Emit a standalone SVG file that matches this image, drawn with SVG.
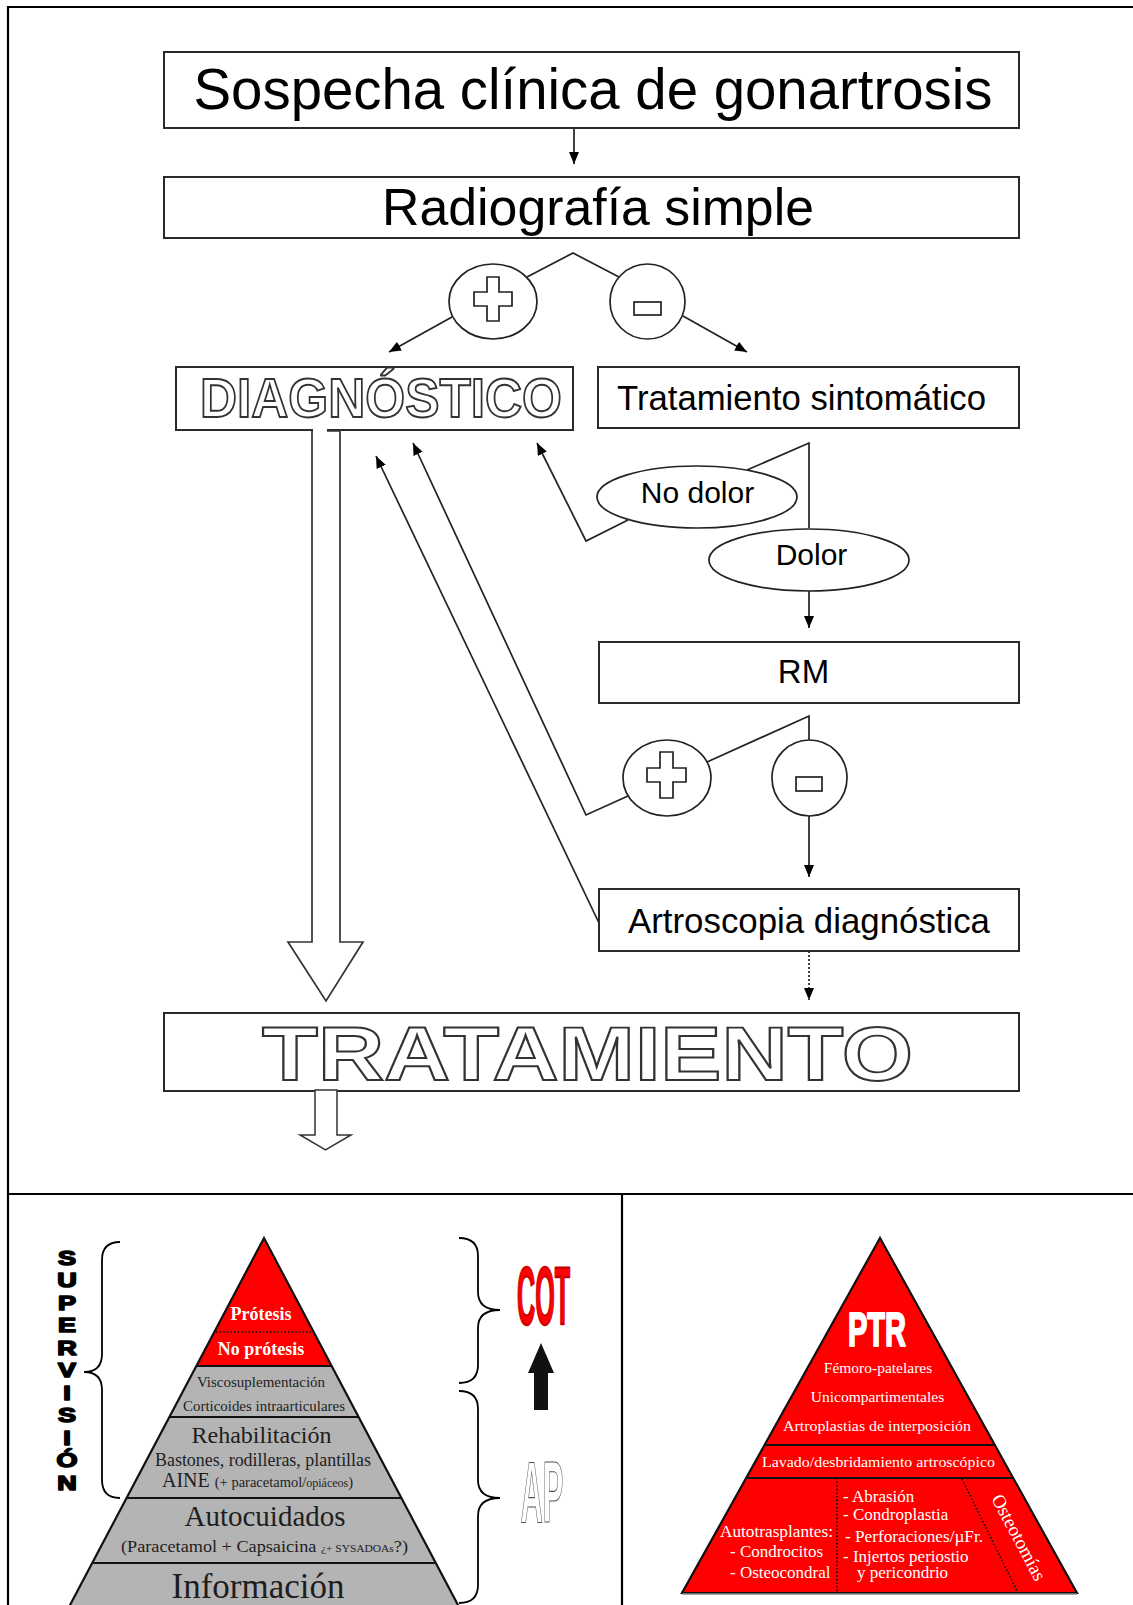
<svg xmlns="http://www.w3.org/2000/svg" width="1133" height="1605" viewBox="0 0 1133 1605">
  <style>
    .box { fill: #fff; stroke: #2a2a2a; stroke-width: 2; }
    .ln { fill: none; stroke: #222; stroke-width: 1.7; }
    .el { fill: #fff; stroke: #222; stroke-width: 1.7; }
    .sans { font-family: "Liberation Sans", Arial, sans-serif; fill: #000; }
    .hollow { font-family: "Liberation Sans", Arial, sans-serif; font-weight: bold; fill: #fff; stroke: #333; stroke-width: 1.9; }
    .serif { font-family: "Liberation Serif", "Times New Roman", serif; }
    .dark { fill: #1e1e1e; }
    .wt { fill: #fff; }
    .sep { fill: none; stroke: #111; stroke-width: 2.2; }
    .dot { fill: none; stroke: #111; stroke-width: 1.6; stroke-dasharray: 1.6 2; }
  </style>
  <defs>
    <marker id="ah" markerUnits="userSpaceOnUse" markerWidth="13" markerHeight="11" refX="12" refY="5" orient="auto">
      <path d="M0,0 L12,5 L0,10 Z" fill="#000"/>
    </marker>
  </defs>

  <rect width="1133" height="1605" fill="#fff"/>

  <!-- outer frame and panel dividers -->
  <g id="frame" fill="none" stroke="#000" stroke-width="2.2">
    <path d="M1140,7 H8 V1610"/>
    <path d="M8,1194 H1140"/>
    <path d="M622,1194 V1610"/>
  </g>

  <!-- connectors -->
  <g id="connectors">
    <line class="ln" x1="574" y1="128" x2="574" y2="164" marker-end="url(#ah)"/>
    <polyline class="ln" points="527,277 573,253 619,277"/>
    <line class="ln" x1="452" y1="317" x2="389" y2="352" marker-end="url(#ah)"/>
    <line class="ln" x1="683" y1="316" x2="747" y2="352" marker-end="url(#ah)"/>
    <polyline class="ln" points="747,470 809,443 809,528"/>
    <polyline class="ln" points="628,520 586,541 537,443" marker-end="url(#ah)"/>
    <line class="ln" x1="809" y1="591" x2="809" y2="628" marker-end="url(#ah)"/>
    <polyline class="ln" points="707,762 809,716 809,740"/>
    <polyline class="ln" points="628,796 586,815 413,443" marker-end="url(#ah)"/>
    <line class="ln" x1="809" y1="816" x2="809" y2="877" marker-end="url(#ah)"/>
    <line class="ln" x1="599" y1="923" x2="376" y2="456" marker-end="url(#ah)"/>
    <line class="ln" x1="809" y1="951" x2="809" y2="1000" stroke-dasharray="2 2" marker-end="url(#ah)"/>
  </g>

  <!-- flowchart nodes -->
  <g id="n-sospecha">
    <rect class="box" x="164" y="52" width="855" height="76"/>
    <text class="sans" x="593" y="109" font-size="57" text-anchor="middle" textLength="799" lengthAdjust="spacingAndGlyphs">Sospecha clínica de gonartrosis</text>
  </g>
  <g id="n-radiografia">
    <rect class="box" x="164" y="177" width="855" height="61"/>
    <text class="sans" x="598" y="225" font-size="52" text-anchor="middle" textLength="432" lengthAdjust="spacingAndGlyphs">Radiografía simple</text>
  </g>
  <g id="n-pos1">
    <ellipse class="el" cx="493" cy="301.5" rx="44" ry="37.5"/>
    <path class="el" d="M487,277 H499 V292 H512 V306 H499 V321 H487 V306 H474 V292 H487 Z"/>
  </g>
  <g id="n-neg1">
    <ellipse class="el" cx="647.5" cy="301.5" rx="37.5" ry="37.5"/>
    <rect class="el" x="634" y="302" width="27" height="13"/>
  </g>
  <g id="n-diagnostico">
    <rect class="box" x="176" y="367" width="397" height="63"/>
    <text class="hollow" x="200" y="417" font-size="56" textLength="362" lengthAdjust="spacingAndGlyphs">DIAGNÓSTICO</text>
  </g>
  <g id="n-sintomatico">
    <rect class="box" x="598" y="367" width="421" height="61"/>
    <text class="sans" x="617" y="410" font-size="34.5" textLength="369" lengthAdjust="spacingAndGlyphs">Tratamiento sintomático</text>
  </g>
  <g id="n-nodolor">
    <ellipse class="el" cx="697" cy="497" rx="100" ry="31"/>
    <text class="sans" x="697.5" y="503" font-size="30" text-anchor="middle">No dolor</text>
  </g>
  <g id="n-dolor">
    <ellipse class="el" cx="809" cy="560" rx="100" ry="31"/>
    <text class="sans" x="811.5" y="565" font-size="30" text-anchor="middle">Dolor</text>
  </g>
  <g id="n-rm">
    <rect class="box" x="599" y="642" width="420" height="61"/>
    <text class="sans" x="803.5" y="683" font-size="33" text-anchor="middle">RM</text>
  </g>
  <g id="n-pos2">
    <ellipse class="el" cx="667" cy="778" rx="44" ry="38"/>
    <path class="el" d="M660,752 H673 V768 H686 V782 H673 V798 H660 V782 H647 V768 H660 Z"/>
  </g>
  <g id="n-neg2">
    <ellipse class="el" cx="809.5" cy="778" rx="37.5" ry="38"/>
    <rect class="el" x="796" y="777" width="26" height="14"/>
  </g>
  <g id="n-artroscopia">
    <rect class="box" x="599" y="889" width="420" height="62"/>
    <text class="sans" x="628" y="933" font-size="34.5" textLength="362" lengthAdjust="spacingAndGlyphs">Artroscopia diagnóstica</text>
  </g>
  <g id="n-big-arrow">
    <polygon points="312,431 312,942 288,942 326,1001 363,942 340,942 340,431" fill="#fff" stroke="#333" stroke-width="1.7" stroke-linejoin="miter"/>
    <rect x="313" y="428" width="14" height="4" fill="#fff"/>
  </g>
  <g id="n-tratamiento">
    <rect class="box" x="164" y="1013" width="855" height="78"/>
    <text class="hollow" x="262" y="1080" font-size="76" textLength="651" lengthAdjust="spacingAndGlyphs">TRATAMIENTO</text>
  </g>
  <g id="n-out-arrow">
    <polygon points="315,1090 315,1135 300,1135 325.5,1150 351,1135 337,1135 337,1090" fill="#fff" stroke="#333" stroke-width="1.5"/>
  </g>

  <!-- left panel: treatment pyramid by care level -->
  <g id="pyramid-left">
    <polygon points="264,1238 196.3,1366 331.7,1366" fill="#f00"/>
    <polygon points="196.3,1366 331.7,1366 358.6,1417 169.4,1417" fill="#b4b4b4"/>
    <polygon points="169.4,1417 358.6,1417 401.5,1498 126.5,1498" fill="#b4b4b4"/>
    <polygon points="126.5,1498 401.5,1498 435.8,1563 92.2,1563" fill="#b4b4b4"/>
    <polygon points="92.2,1563 435.8,1563 458.5,1606 69.5,1606" fill="#b4b4b4"/>
    <path class="sep" d="M69.5,1606 L264,1238 L458.5,1606"/>
    <path class="sep" d="M196.3,1366 H331.7 M169.4,1417 H358.6 M126.5,1498 H401.5 M92.2,1563 H435.8"/>
    <path class="dot" d="M216,1332 H311"/>
    <text class="serif wt" x="261" y="1320" font-size="18" font-weight="bold" text-anchor="middle">Prótesis</text>
    <text class="serif wt" x="261" y="1355" font-size="18" font-weight="bold" text-anchor="middle">No prótesis</text>
    <text class="serif dark" x="261" y="1387" font-size="15" text-anchor="middle">Viscosuplementación</text>
    <text class="serif dark" x="264" y="1411" font-size="15" text-anchor="middle" textLength="162" lengthAdjust="spacingAndGlyphs">Corticoides intraarticulares</text>
    <text class="serif dark" x="261.5" y="1443" font-size="24" text-anchor="middle">Rehabilitación</text>
    <text class="serif dark" x="263" y="1466" font-size="18" text-anchor="middle" textLength="216" lengthAdjust="spacingAndGlyphs">Bastones, rodilleras, plantillas</text>
    <text class="serif dark" x="162" y="1487" font-size="20">AINE <tspan font-size="14.5">(+ paracetamol/</tspan><tspan font-size="12">opiáceos</tspan><tspan font-size="14.5">)</tspan></text>
    <text class="serif dark" x="265" y="1526" font-size="29" text-anchor="middle">Autocuidados</text>
    <text class="serif dark" x="121" y="1552" font-size="17.5" textLength="287" lengthAdjust="spacingAndGlyphs">(Paracetamol + Capsaicina <tspan font-size="11">¿+ SYSADOAs</tspan>?)</text>
    <text class="serif dark" x="258" y="1598" font-size="35" text-anchor="middle">Información</text>
  </g>

  <g id="supervision" class="sans" font-weight="900" font-size="20" text-anchor="middle">
    <g transform="translate(67,0) scale(1.35,1)" stroke="#000" stroke-width="1.6" stroke-linejoin="round">
      <text x="0" y="1265">S</text>
      <text x="0" y="1287.5">U</text>
      <text x="0" y="1310">P</text>
      <text x="0" y="1332.5">E</text>
      <text x="0" y="1355">R</text>
      <text x="0" y="1377.5">V</text>
      <text x="0" y="1400">I</text>
      <text x="0" y="1422.5">S</text>
      <text x="0" y="1445">I</text>
      <text x="0" y="1467.5">Ó</text>
      <text x="0" y="1490">N</text>
    </g>
  </g>

  <g id="braces" fill="none" stroke="#000" stroke-width="1.8">
    <path d="M120,1242 Q102,1242 102,1260 L102,1354 Q102,1372 84,1372 Q102,1372 102,1390 L102,1480 Q102,1498 120,1498"/>
    <path d="M459,1238 Q478,1238 478,1256 L478,1292 Q478,1310 500,1310 Q478,1310 478,1328 L478,1365 Q478,1383 459,1383"/>
    <path d="M459,1391 Q478,1391 478,1409 L478,1480 Q478,1498 500,1498 Q478,1498 478,1516 L478,1585 Q478,1603 459,1603"/>
  </g>

  <g id="cot">
    <text x="543.5" y="1324" font-family="Liberation Sans, Arial, sans-serif" font-weight="bold" font-size="82" text-anchor="middle" textLength="53" lengthAdjust="spacingAndGlyphs" fill="#f00" stroke="#c00" stroke-width="2.6" stroke-linejoin="round">COT</text>
    <polygon points="541,1343 554,1373 548,1373 548,1410 534,1410 534,1373 528,1373" fill="#111"/>
  </g>
  <g id="ap">
    <text x="542" y="1522" font-family="Liberation Sans, Arial, sans-serif" font-weight="bold" font-size="88" text-anchor="middle" textLength="43" lengthAdjust="spacingAndGlyphs" fill="#fff" stroke="#555" stroke-width="1.2">AP</text>
  </g>

  <!-- right panel: surgical options pyramid -->
  <g id="pyramid-right">
    <polygon points="880,1238 682,1593 1077,1593" fill="#f00" stroke="#111" stroke-width="2.2"/>
    <path class="sep" d="M765,1445 H995 M746.5,1478 H1013.5"/>
    <path d="M682,1594 H1077" stroke="#888" stroke-width="1.5"/>
    <path class="dot" d="M837,1478 V1593 M962,1479 L1018,1593"/>
    <text x="877" y="1346" font-family="Liberation Sans, Arial, sans-serif" font-weight="bold" font-size="48" text-anchor="middle" textLength="58" lengthAdjust="spacingAndGlyphs" fill="#fff" stroke="#fff" stroke-width="2" stroke-linejoin="round">PTR</text>
    <g class="serif wt" font-size="15.5" text-anchor="middle">
      <text x="878" y="1373">Fémoro-patelares</text>
      <text x="877.5" y="1402">Unicompartimentales</text>
      <text x="877" y="1431" textLength="188" lengthAdjust="spacingAndGlyphs">Artroplastias de interposición</text>
      <text x="878.5" y="1467" textLength="233" lengthAdjust="spacingAndGlyphs">Lavado/desbridamiento artroscópico</text>
    </g>
    <g class="serif wt" font-size="17">
      <text x="720" y="1537" textLength="113" lengthAdjust="spacingAndGlyphs">Autotrasplantes:</text>
      <text x="730" y="1557">- Condrocitos</text>
      <text x="730" y="1578">- Osteocondral</text>
      <text x="843" y="1502">- Abrasión</text>
      <text x="843" y="1520">- Condroplastia</text>
      <text x="845" y="1542" textLength="138" lengthAdjust="spacingAndGlyphs">- Perforaciones/µFr.</text>
      <text x="843" y="1562">- Injertos periostio</text>
      <text x="857" y="1578">y pericondrio</text>
    </g>
    <text class="serif wt" font-size="19" text-anchor="middle" transform="translate(1018.5,1537.5) rotate(62)" y="6">Osteotomías</text>
  </g>
</svg>
